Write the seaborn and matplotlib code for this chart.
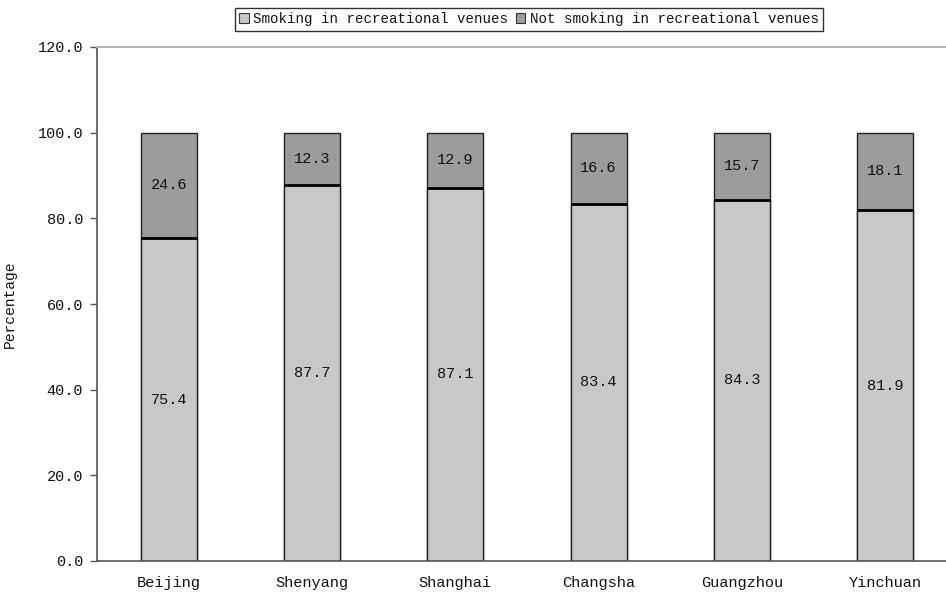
import numpy as np
import pandas as pd
import matplotlib
matplotlib.use('Agg')
import matplotlib.pyplot as plt
import seaborn as sns
from matplotlib.patches import Patch
from matplotlib.ticker import FixedLocator

cities = ['Beijing', 'Shenyang', 'Shanghai', 'Changsha', 'Guangzhou', 'Yinchuan']
smoking = [75.4, 87.7, 87.1, 83.4, 84.3, 81.9]
not_smoking = [24.6, 12.3, 12.9, 16.6, 15.7, 18.1]
y_ticks = [0, 20, 40, 60, 80, 100, 120]

LIGHT = '#c8c8c8'
DARK = '#9c9c9c'

sns.set_style('white')
plt.rcParams['font.family'] = ['Liberation Mono', 'DejaVu Sans Mono']

df = pd.DataFrame({
    'city': cities,
    'smoking': smoking,
    'not_smoking': not_smoking,
})
df['total'] = df['smoking'] + df['not_smoking']

fig = plt.figure(figsize=(9.46, 5.92), dpi=100)
# plot area runs past the right edge of the picture, as in the original
ax = fig.add_axes([97 / 946, 31 / 592, 860 / 946, 514 / 592])

# top segment drawn as full stack, bottom segment drawn over it
sns.barplot(data=df, x='city', y='total', color=DARK, width=0.39,
            edgecolor='#222222', linewidth=1.0, saturation=1, ax=ax)
sns.barplot(data=df, x='city', y='smoking', color=LIGHT, width=0.39,
            edgecolor='#222222', linewidth=1.0, saturation=1, ax=ax)

# boundary between segments, thicker black
for i, s in enumerate(smoking):
    ax.plot([i - 0.195, i + 0.195], [s, s], color='black', lw=2.0,
            solid_capstyle='butt', zorder=3)

for i, (s, n) in enumerate(zip(smoking, not_smoking)):
    ax.text(i, s / 2, f'{s:.1f}', ha='center', va='center', fontsize=11,
            color='#111111')
    ax.text(i, s + n / 2, f'{n:.1f}', ha='center', va='center', fontsize=11,
            color='#111111')

ax.set_xlim(-0.5, len(cities) - 0.5)
ax.set_ylim(0, 120)
ax.set_yticks(y_ticks)
ax.set_yticklabels([f'{v:.1f}' for v in y_ticks], fontsize=11, color='#111111')
ax.set_xticklabels(cities, fontsize=11, color='#111111')
ax.xaxis.set_minor_locator(FixedLocator(np.arange(-0.5, len(cities), 1.0)))
ax.tick_params(axis='x', which='major', length=0, pad=11)
ax.tick_params(axis='x', which='minor', direction='in', length=4,
               color='#555555', width=1)
ax.tick_params(axis='y', direction='out', length=5, color='#555555',
               width=1, pad=5, left=True)
ax.set_xlabel('')
ax.set_ylabel('Percentage', fontsize=10.5, color='#111111')
ax.yaxis.set_label_coords(-80 / 860, 0.5)

for side in ['left', 'bottom']:
    ax.spines[side].set_visible(True)
    ax.spines[side].set_color('#555555')
    ax.spines[side].set_linewidth(1.2)
ax.spines['top'].set_color('#b4b4b4')
ax.spines['top'].set_linewidth(1.5)
ax.spines['right'].set_visible(False)

handles = [Patch(facecolor=LIGHT, edgecolor='#333333', lw=0.8),
           Patch(facecolor=DARK, edgecolor='#333333', lw=0.8)]
leg = fig.legend(handles, ['Smoking in recreational venues',
                           'Not smoking in recreational venues'],
                 loc='upper center', bbox_to_anchor=(529 / 946, 584 / 592),
                 ncol=2, fontsize=10.2, frameon=True, fancybox=False,
                 handlelength=0.7, handleheight=0.7, handletextpad=0.3,
                 columnspacing=0.5, borderpad=0.3, borderaxespad=0)
leg.get_frame().set_edgecolor('black')
leg.get_frame().set_linewidth(1.0)
for t in leg.get_texts():
    t.set_color('#111111')

fig.savefig('out.png', dpi=100)
